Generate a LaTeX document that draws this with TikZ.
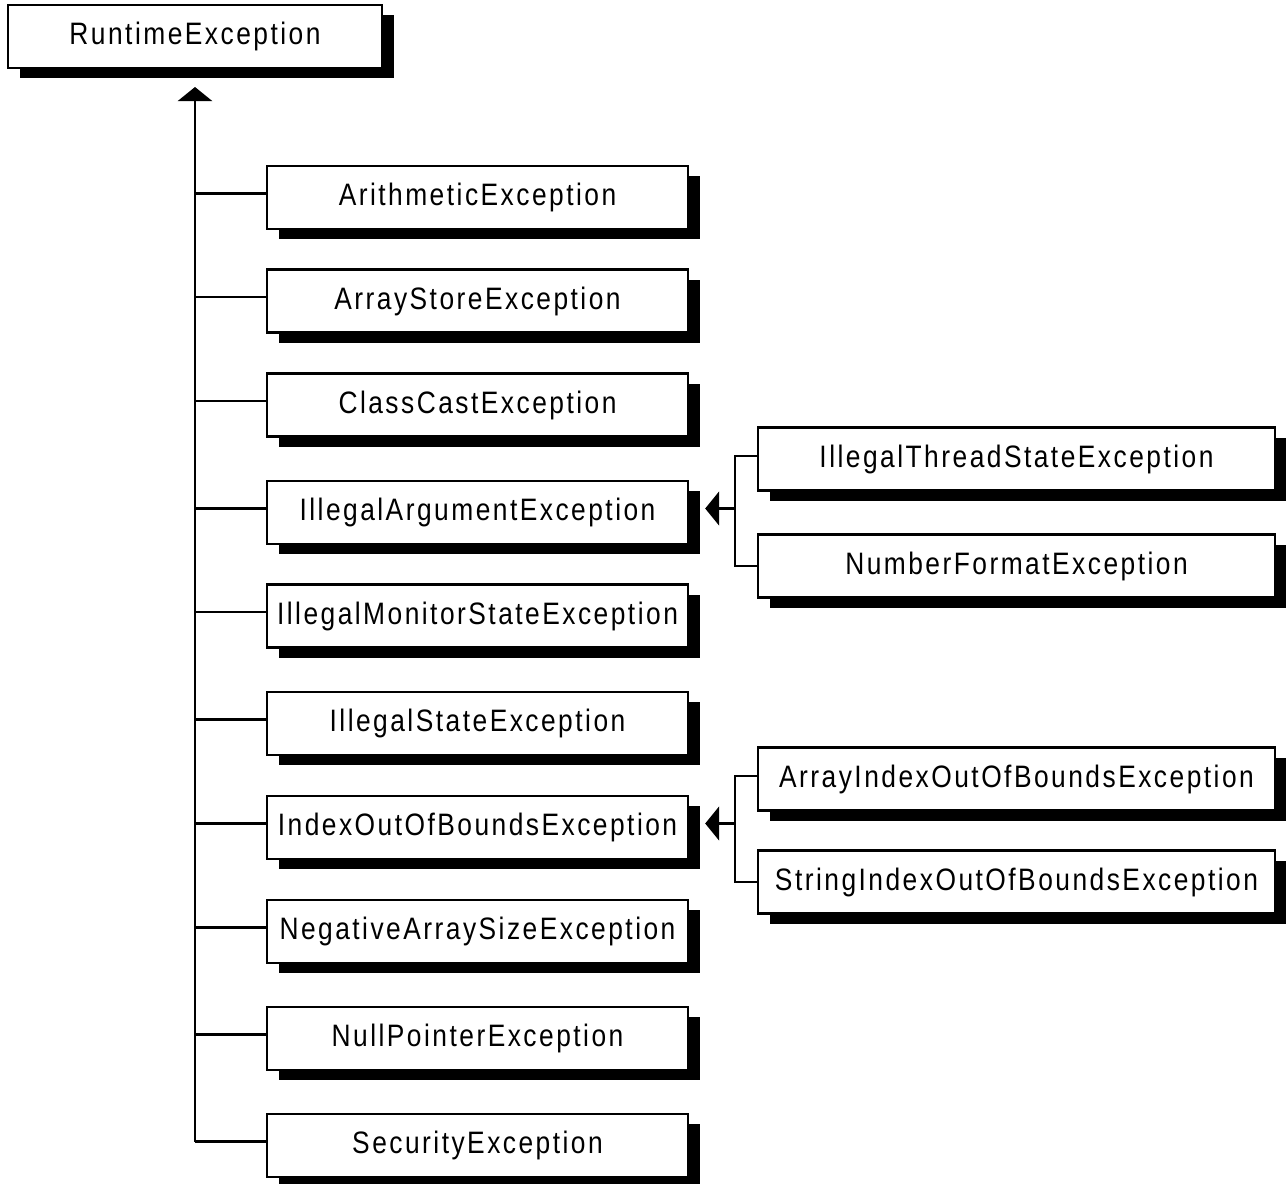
\documentclass[tikz,border=0pt]{standalone}
\usepackage{fontspec}
\setmainfont{Liberation Sans}[FakeStretch=0.85,LetterSpace=8]
\usetikzlibrary{arrows.meta,shadows}

\begin{document}
\begin{tikzpicture}[x=0.5pt, y=-0.5pt, line width=1.1pt,
        cls/.style={draw, line width=1.2pt, fill=white, minimum height=31.5pt, inner sep=0pt,
            font=\fontsize{15.5}{18}\selectfont,
            drop shadow={shadow xshift=6pt, shadow yshift=-5pt, opacity=1, fill=black}},
        sub/.style={cls, minimum width=210.5pt},
        subsub/.style={cls, minimum width=258.5pt},
        inherit/.style={-{Triangle[length=7pt, width=17pt]}}]
    \useasboundingbox (0,0) rectangle (1286,1184);
    \node[cls, minimum width=187pt] (rt) at (195,36.5) {RuntimeException};
    \coordinate (top) at (195,87);
    \foreach \n/\y/\t in {ae/197.5/ArithmeticException, ase/301/ArrayStoreException,
            cce/405/ClassCastException, iae/512.5/IllegalArgumentException,
            imse/616/IllegalMonitorStateException, ise/723.5/IllegalStateException,
            ioobe/827.5/IndexOutOfBoundsException, nase/931.5/NegativeArraySizeException,
            npe/1038.5/NullPointerException, se/1145.5/SecurityException} {
        \node[sub] (\n) at (477.5,\y) {\t};
        \draw ([yshift=2pt]\n.west -| top) -- ([yshift=2pt]\n.west);
    }
    \draw[inherit, line width=1.4pt] ([yshift=2pt]se.west -| top) -- (top);
    % second level
    \node[subsub] (itse) at (1016.5,459) {IllegalThreadStateException};
    \node[subsub] (nfe) at (1016.5,566) {NumberFormatException};
    \node[subsub] (aioobe) at (1016.5,779) {ArrayIndexOutOfBoundsException};
    \node[subsub] (sioobe) at (1016.5,882) {StringIndexOutOfBoundsException};
    \coordinate (iaetip) at ([xshift=8pt, yshift=2pt]iae.east);
    \coordinate (iaefork) at ([xshift=23pt, yshift=2pt]iae.east);
    \coordinate (ioobetip) at ([xshift=8pt, yshift=2pt]ioobe.east);
    \coordinate (ioobefork) at ([xshift=23pt, yshift=2pt]ioobe.east);
    \draw[inherit] (iaefork) -- (iaetip);
    \draw[line width=1pt] ([yshift=1.5pt]itse.west) -| (iaefork) |- (nfe.west);
    \draw[inherit] (ioobefork) -- (ioobetip);
    \draw[line width=1pt] ([yshift=1.5pt]aioobe.west) -| (ioobefork) |- (sioobe.west);
\end{tikzpicture}
\end{document}
